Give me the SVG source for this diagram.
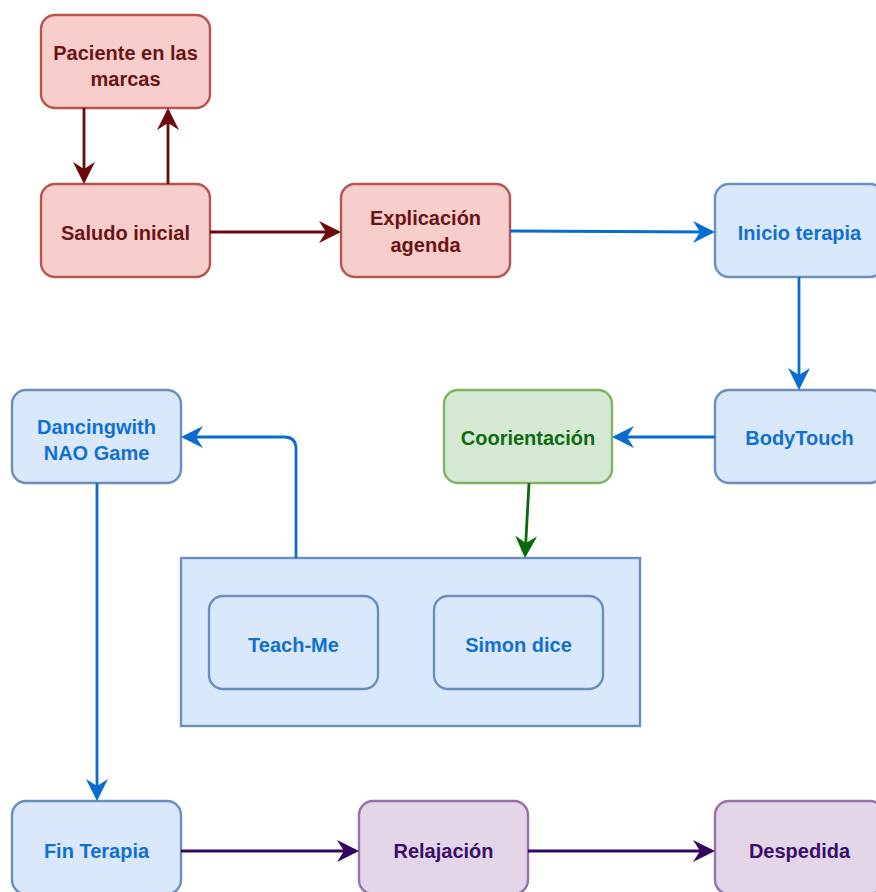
<svg xmlns="http://www.w3.org/2000/svg" width="876" height="892" viewBox="0 0 876 892">
  <style>
    .node rect { stroke-width: 2.4; }
    .red rect { fill: #f8cecc; stroke: #b85450; }
    .blue rect { fill: #dae8fc; stroke: #6c8ebf; }
    .green rect { fill: #d5e8d4; stroke: #82b366; }
    .purple rect { fill: #e1d5e7; stroke: #9673a6; }
    text { font-family: "Liberation Sans", Arial, Helvetica, sans-serif; font-size: 20px; font-weight: bold; text-anchor: middle; }
    .red text { fill: #6a1414; }
    .blue text { fill: #1170d0; }
    .green text { fill: #106a10; }
    .purple text { fill: #3a0e6a; }
    .edge { fill: none; stroke-width: 2.8; }
    .e-red { stroke: #6a0a0a; }
    .e-blue { stroke: #0a6ccf; }
    .e-green { stroke: #0a6a0a; }
    .e-purple { stroke: #33065f; }
  </style>
  <defs>
    <marker id="arr-red" markerUnits="userSpaceOnUse" viewBox="-24 -12 26 24" markerWidth="26" markerHeight="24" refX="-3" refY="0" orient="auto">
      <path d="M-22,-11 L0,0 L-22,11 L-15,0 Z" fill="#6a0a0a"/>
    </marker>
    <marker id="arr-blue" markerUnits="userSpaceOnUse" viewBox="-24 -12 26 24" markerWidth="26" markerHeight="24" refX="-3" refY="0" orient="auto">
      <path d="M-22,-11 L0,0 L-22,11 L-15,0 Z" fill="#0a6ccf"/>
    </marker>
    <marker id="arr-green" markerUnits="userSpaceOnUse" viewBox="-24 -12 26 24" markerWidth="26" markerHeight="24" refX="-3" refY="0" orient="auto">
      <path d="M-22,-11 L0,0 L-22,11 L-15,0 Z" fill="#0a6a0a"/>
    </marker>
    <marker id="arr-purple" markerUnits="userSpaceOnUse" viewBox="-24 -12 26 24" markerWidth="26" markerHeight="24" refX="-3" refY="0" orient="auto">
      <path d="M-22,-11 L0,0 L-22,11 L-15,0 Z" fill="#33065f"/>
    </marker>
  </defs>

  <!-- activity group container -->
  <g id="grupo-actividades" class="node blue">
    <rect x="181" y="558" width="459" height="168" rx="0"/>
  </g>

  <g id="paciente" class="node red">
    <rect x="41" y="15" width="169" height="93" rx="14"/>
    <text x="125.5" y="60">Paciente en las</text>
    <text x="125.5" y="86">marcas</text>
  </g>
  <g id="saludo" class="node red">
    <rect x="41" y="184" width="169" height="93" rx="14"/>
    <text x="125.5" y="240">Saludo inicial</text>
  </g>
  <g id="explicacion" class="node red">
    <rect x="341" y="184" width="169" height="93" rx="14"/>
    <text x="425.5" y="225">Explicación</text>
    <text x="425.5" y="252">agenda</text>
  </g>
  <g id="inicio" class="node blue">
    <rect x="715" y="184" width="169" height="93" rx="14"/>
    <text x="799.5" y="240">Inicio terapia</text>
  </g>
  <g id="bodytouch" class="node blue">
    <rect x="715" y="390" width="169" height="93" rx="14"/>
    <text x="799.5" y="445">BodyTouch</text>
  </g>
  <g id="coorientacion" class="node green">
    <rect x="444" y="390" width="168" height="93" rx="14"/>
    <text x="528" y="445">Coorientación</text>
  </g>
  <g id="dancing" class="node blue">
    <rect x="12" y="390" width="169" height="93" rx="14"/>
    <text x="96.5" y="434">Dancingwith</text>
    <text x="96.5" y="460">NAO Game</text>
  </g>
  <g id="teachme" class="node blue">
    <rect x="209" y="596" width="169" height="93" rx="14"/>
    <text x="293.5" y="652">Teach-Me</text>
  </g>
  <g id="simon" class="node blue">
    <rect x="434" y="596" width="169" height="93" rx="14"/>
    <text x="518.5" y="652">Simon dice</text>
  </g>
  <g id="fin" class="node blue">
    <rect x="12" y="801" width="169" height="93" rx="14"/>
    <text x="96.5" y="858">Fin Terapia</text>
  </g>
  <g id="relajacion" class="node purple">
    <rect x="359" y="801" width="169" height="93" rx="14"/>
    <text x="443.5" y="858">Relajación</text>
  </g>
  <g id="despedida" class="node purple">
    <rect x="715" y="801" width="169" height="93" rx="14"/>
    <text x="799.5" y="858">Despedida</text>
  </g>

  <!-- connectors -->
  <g id="connectors">
    <path class="edge e-red" d="M84,108 L84,181" marker-end="url(#arr-red)"/>
    <path class="edge e-red" d="M168,184 L168,111" marker-end="url(#arr-red)"/>
    <path class="edge e-red" d="M210,232 L338,232" marker-end="url(#arr-red)"/>
    <path class="edge e-blue" d="M510,231 L712,232" marker-end="url(#arr-blue)"/>
    <path class="edge e-blue" d="M799,277 L799,387" marker-end="url(#arr-blue)"/>
    <path class="edge e-blue" d="M715,437 L615,437" marker-end="url(#arr-blue)"/>
    <path class="edge e-green" d="M529,483 L525.1,555" marker-end="url(#arr-green)"/>
    <path class="edge e-blue" d="M296,558 L296,449 Q296,437 284,437 L184,437" marker-end="url(#arr-blue)"/>
    <path class="edge e-blue" d="M97,483 L97,798" marker-end="url(#arr-blue)"/>
    <path class="edge e-purple" d="M181,851 L356,851" marker-end="url(#arr-purple)"/>
    <path class="edge e-purple" d="M528,851 L712,851" marker-end="url(#arr-purple)"/>
  </g>
</svg>
